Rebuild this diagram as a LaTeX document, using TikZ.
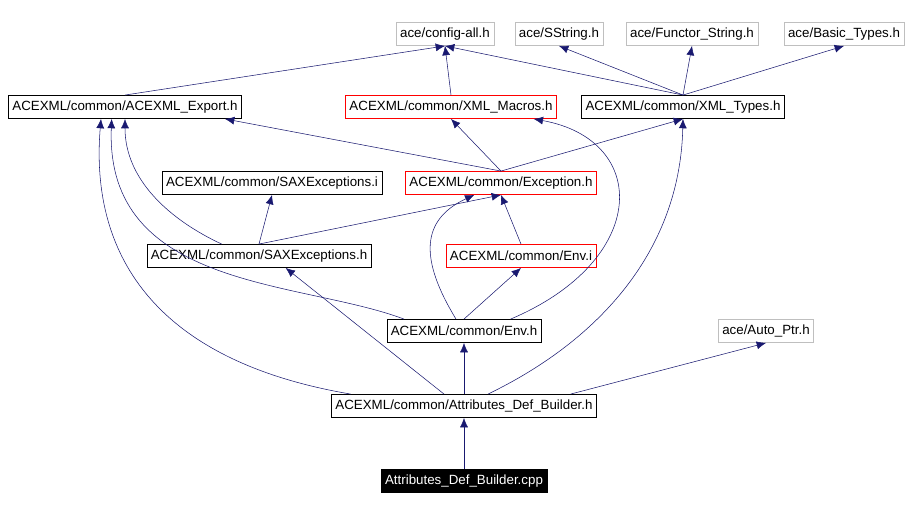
\documentclass[tikz,border=0pt]{standalone}
\usepackage{fontspec}
\setmainfont{Liberation Sans}
\usetikzlibrary{arrows.meta}
\definecolor{edgeblue}{HTML}{191970}
\definecolor{boxgray}{HTML}{BFBFBF}

\tikzset{
  file/.style={draw=black, rectangle, inner xsep=3pt, minimum height=17.5pt,
               font=\fontsize{10}{12}\selectfont, fill=white},
  sysfile/.style={file, draw=boxgray},
  redfile/.style={file, draw=red},
  root/.style={file, fill=black, text=white},
  dep/.style={draw=edgeblue, -{Latex[length=7pt,width=6pt]}, fill=none}
}

\begin{document}
\begin{tikzpicture}[x=0.75pt,y=-0.75pt]
  \useasboundingbox (0,0) rectangle (911,510);
  % system headers
  \node[sysfile] (config)  at (445,34) {ace/config-all.h};
  \node[sysfile] (sstring) at (559,34) {ace/SString.h};
  \node[sysfile] (functor) at (692,34) {ace/Functor\_String.h};
  \node[sysfile] (basic)   at (844,34) {ace/Basic\_Types.h};
  % common headers
  \node[file]    (export)  at (125,107) {ACEXML/common/ACEXML\_Export.h};
  \node[redfile] (macros)  at (451,107) {ACEXML/common/XML\_Macros.h};
  \node[file]    (types)   at (683,107) {ACEXML/common/XML\_Types.h};
  \node[file]    (saxi)    at (272,183) {ACEXML/common/SAXExceptions.i};
  \node[redfile] (except)  at (501,183) {ACEXML/common/Exception.h};
  \node[file]    (saxh)    at (259,256) {ACEXML/common/SAXExceptions.h};
  \node[redfile] (envi)    at (521,256) {ACEXML/common/Env.i};
  \node[file]    (env)     at (464,331) {ACEXML/common/Env.h};
  \node[sysfile] (autoptr) at (766,331) {ace/Auto\_Ptr.h};
  \node[file]    (builder) at (464,406) {ACEXML/common/Attributes\_Def\_Builder.h};
  \node[root]    (cpp)     at (464,481) {Attributes\_Def\_Builder.cpp};

  % edges
  \draw[dep] (export.north) -- (config.south);
  \draw[dep] (macros.north) -- (config.south);
  \draw[dep] (types.north) -- (config.south);
  \draw[dep] (types.north) -- (sstring.south);
  \draw[dep] (types.north) -- (functor.south);
  \draw[dep] (types.north) -- (basic.south);
  \draw[dep] (except.north) -- ([xshift=75pt]export.south);
  \draw[dep] (except.north) -- (macros.south);
  \draw[dep] (except.north) -- (types.south);
  \draw[dep] ([xshift=-28pt]saxh.north) .. controls (170,220) and (125,180) .. ([xshift=0pt]export.south);
  \draw[dep] (saxh.north) -- (saxi.south);
  \draw[dep] (saxh.north) -- (except.south);
  \draw[dep] (envi.north) -- (except.south);
  \draw[dep] ([xshift=-45pt]env.north) .. controls (300,280) and (105,290) .. ([xshift=-10pt]export.south);
  \draw[dep] ([xshift=-6pt]env.north) .. controls (420,260) and (420,220) .. ([xshift=-20pt]except.south);
  \draw[dep] (env.north) -- (envi.south);
  \draw[dep] ([xshift=35pt]env.north) .. controls (650,260) and (650,140) .. ([xshift=62pt]macros.south);
  \draw[dep] ([xshift=-85pt]builder.north) .. controls (150,360) and (90,250) .. ([xshift=-18pt]export.south);
  \draw[dep] ([xshift=-15pt]builder.north) -- ([xshift=20pt]saxh.south);
  \draw[dep] (builder.north) -- (env.south);
  \draw[dep] ([xshift=18pt]builder.north) .. controls (600,340) and (680,250) .. (types.south);
  \draw[dep] ([xshift=80pt]builder.north) -- (autoptr.south);
  \draw[dep] (cpp.north) -- (builder.south);
\end{tikzpicture}
\end{document}
